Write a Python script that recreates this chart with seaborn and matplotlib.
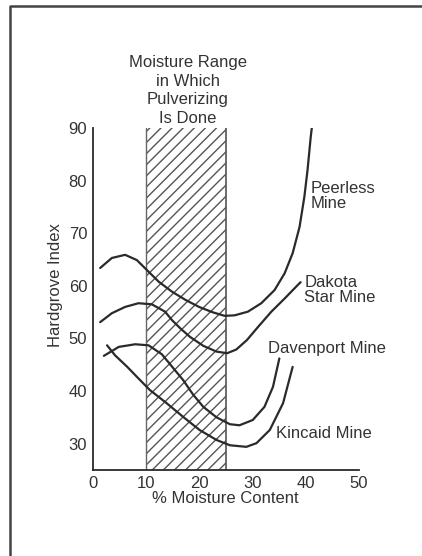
import numpy as np
import pandas as pd
import matplotlib
matplotlib.use("Agg")
import matplotlib.pyplot as plt
from matplotlib.lines import Line2D
import seaborn as sns

# ---- data ----
peerless_x = [1.4, 3.6, 6.1, 8.3, 10.2, 12.4, 14.9, 17.5, 20.0, 22.5, 24.8, 26.7, 29.2, 31.7, 34.2, 36.1, 37.6, 38.9, 39.8, 40.4, 41.0, 41.2]
peerless_y = [63.4, 65.3, 65.9, 64.9, 63.0, 60.8, 58.9, 57.3, 56.0, 55.0, 54.3, 54.4, 55.1, 56.7, 59.2, 62.4, 66.2, 71.2, 76.9, 82.0, 88.3, 90.0]

dakota_x = [1.4, 3.6, 6.1, 8.6, 11.1, 13.6, 14.9, 16.5, 18.3, 20.8, 23.3, 25.3, 27.0, 29.0, 31.1, 33.6, 36.1, 38.6, 39.1]
dakota_y = [53.1, 54.8, 56.0, 56.7, 56.5, 55.1, 53.5, 51.9, 50.3, 48.6, 47.5, 47.2, 47.9, 49.7, 52.2, 55.1, 57.6, 60.2, 60.7]

davenport_x = [2.1, 4.9, 8.0, 10.5, 13.0, 15.2, 17.0, 18.9, 20.8, 23.3, 25.8, 27.6, 30.1, 32.3, 33.9, 35.1]
davenport_y = [46.7, 48.4, 48.9, 48.7, 47.0, 44.3, 42.1, 39.3, 37.0, 35.0, 33.7, 33.5, 34.5, 37.0, 40.8, 46.2]

kincaid_x = [2.7, 4.2, 6.5, 8.7, 10.75, 13.9, 17.0, 20.1, 23.3, 25.8, 28.9, 30.8, 33.3, 35.8, 37.6]
kincaid_y = [48.7, 46.8, 44.6, 42.3, 40.2, 37.7, 35.1, 32.6, 30.7, 29.7, 29.4, 30.1, 32.6, 37.7, 44.6]

mine_names = ["Peerless Mine", "Dakota Star Mine", "Davenport Mine", "Kincaid Mine"]
mine_labels = ["Peerless\nMine", "Dakota\nStar Mine", "Davenport Mine", "Kincaid Mine"]
label_x = [40.9, 39.8, 32.9, 34.5]
label_y = [77.1, 59.2, 48.0, 31.9]

range_lo, range_hi = 10, 25
range_text = "Moisture Range\nin Which\nPulverizing\nIs Done"

x_ticks = [0, 10, 20, 30, 40, 50]
y_ticks = [30, 40, 50, 60, 70, 80, 90]
x_label = "% Moisture Content"
y_label = "Hardgrove Index"

# ---- build long-form table ----
frames = []
for name, xs, ys in zip(mine_names,
                        [peerless_x, dakota_x, davenport_x, kincaid_x],
                        [peerless_y, dakota_y, davenport_y, kincaid_y]):
    frames.append(pd.DataFrame({"moisture": xs, "hgi": ys, "mine": name}))
df = pd.concat(frames, ignore_index=True)

sns.set_theme(style="white")
plt.rcParams["font.family"] = ["Liberation Sans", "DejaVu Sans"]
plt.rcParams["hatch.linewidth"] = 1.0

ink = "#2a2a2a"
fig = plt.figure(figsize=(4.22, 5.56), dpi=100)
ax = fig.add_axes([0.2197, 0.1547, 0.63, 0.615])

# hatched pulverizing range
ax.axvspan(range_lo, range_hi, facecolor="none", edgecolor="#555555",
           linewidth=0, hatch="///", zorder=1)
ax.axvline(range_lo, color="#666666", lw=1.0, zorder=1)
ax.axvline(range_hi, color="#555555", lw=1.2, zorder=1)

sns.lineplot(data=df, x="moisture", y="hgi", hue="mine",
             palette=[ink] * 4, linewidth=1.6, legend=False,
             sort=False, estimator=None, ax=ax, zorder=3)

ax.set_xlim(0, 50)
ax.set_ylim(25, 90)
ax.set_xticks(x_ticks)
ax.set_yticks(y_ticks)
for s in ["top", "right"]:
    ax.spines[s].set_visible(False)
for s in ["left", "bottom"]:
    ax.spines[s].set_color(ink)
    ax.spines[s].set_linewidth(1.3)
ax.tick_params(axis="both", direction="in", length=6.5, width=1.2,
               color=ink, labelsize=12, labelcolor="#333333", pad=4)
ax.tick_params(axis="x", pad=4)

ax.set_xlabel(x_label, fontsize=12, color="#333333", labelpad=0.5)
ax.set_ylabel(y_label, fontsize=12, color="#333333")
ax.yaxis.set_label_coords(-0.112, 0.54)

for lab, lx, ly in zip(mine_labels, label_x, label_y):
    ax.text(lx, ly, lab, fontsize=12, color="#333333", ha="left",
            va="center", linespacing=1.0)

ax.text((range_lo + range_hi) / 2 + 0.4, 90.4, range_text, fontsize=12,
        color="#333333", ha="center", va="bottom", linespacing=1.3,
        clip_on=False)

# page frame
fig.add_artist(Line2D([0.024, 0.024, 1.0], [0.0, 0.989, 0.989],
                      transform=fig.transFigure, color="#444444", lw=1.8))

fig.savefig("out.png", dpi=100)
